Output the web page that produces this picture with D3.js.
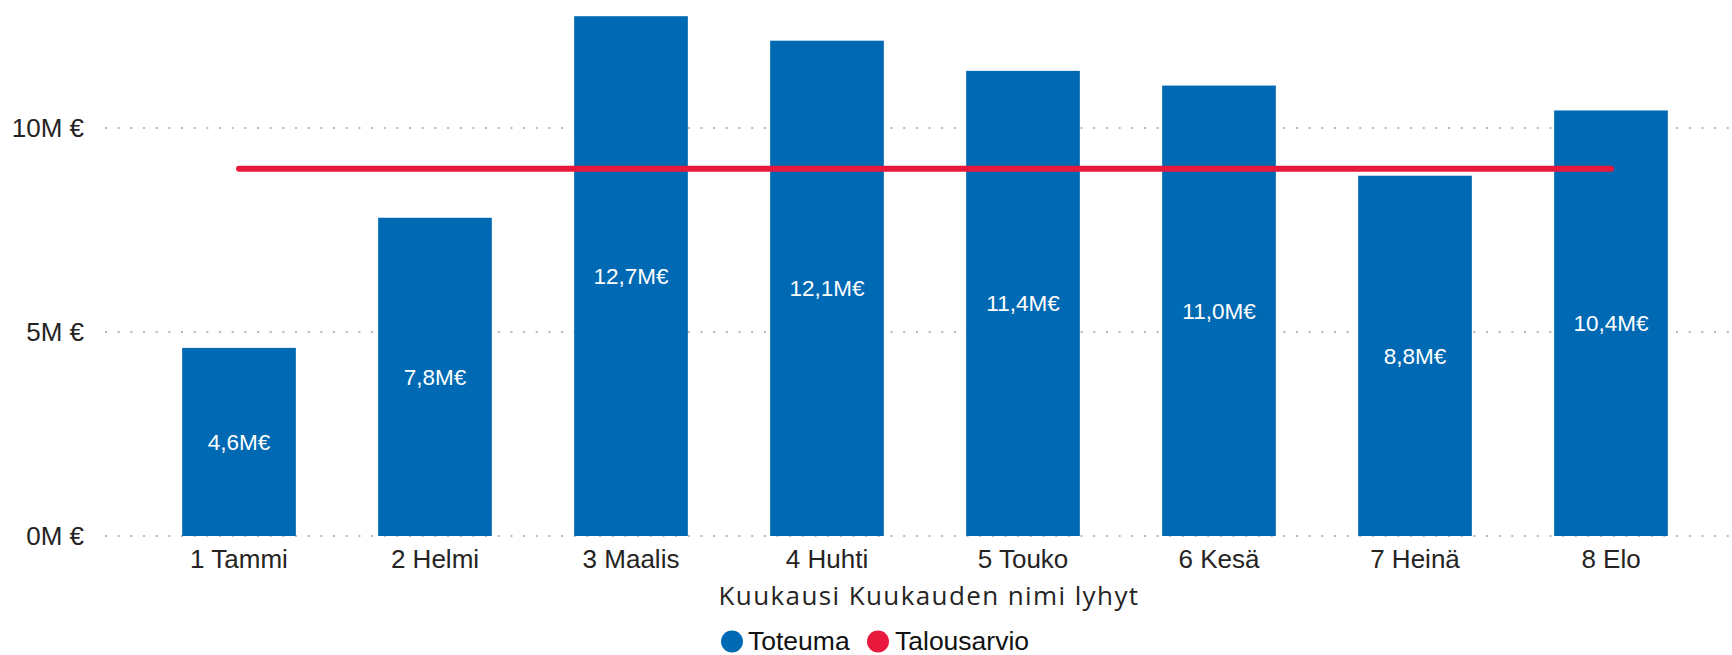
<!DOCTYPE html>
<html>
<head>
<meta charset="utf-8">
<script src="https://cdn.jsdelivr.net/npm/d3@7"></script>
<style>
  body { margin: 0; background: #fff; }
  svg { display: block; font-family: "Liberation Sans", Arial, sans-serif; }
</style>
</head>
<body>
<svg id="chart" width="1732" height="655"></svg>
<script>
var months = ["1 Tammi", "2 Helmi", "3 Maalis", "4 Huhti", "5 Touko", "6 Kesä", "7 Heinä", "8 Elo"];
var toteuma = [4.61, 7.80, 12.74, 12.14, 11.40, 11.04, 8.83, 10.43];   // M€
var talousarvio = [9.0, 9.0, 9.0, 9.0, 9.0, 9.0, 9.0, 9.0];            // M€
var yTicks = [0, 5, 10];

var svg = d3.select("#chart"),
    width = +svg.attr("width"),
    height = +svg.attr("height");

var blue = "#0069B4",
    red = "#E8193C";

// scales
var x = d3.scaleBand()
    .domain(months)
    .range([141, 1709])
    .paddingInner(0.42)
    .paddingOuter(0.21);

var y = d3.scaleLinear()
    .domain([0, 13])
    .range([536, 5.6]);

// dotted gridlines
var grid = svg.append("g").attr("id", "grid");
grid.selectAll("line")
    .data(yTicks)
    .enter().append("line")
    .attr("x1", 105)
    .attr("x2", width)
    .attr("y1", function(d) { return y(d); })
    .attr("y2", function(d) { return y(d); })
    .attr("stroke", "#b9b9b9")
    .attr("stroke-width", 2)
    .attr("stroke-dasharray", "2,10.67");

// y-axis labels
var yAxis = svg.append("g")
    .attr("id", "y_axis")
    .attr("transform", "translate(84,0)")
    .call(d3.axisLeft(y).tickValues(yTicks).tickSize(0).tickPadding(0)
        .tickFormat(function(d) { return d + "M €"; }));
yAxis.select(".domain").remove();
yAxis.selectAll("text")
    .attr("font-size", 26)
    .attr("font-family", "Liberation Sans, Arial, sans-serif")
    .attr("fill", "#252423");

// bars
svg.append("g").attr("id", "bars")
    .selectAll("rect")
    .data(toteuma)
    .enter().append("rect")
    .attr("x", function(d, i) { return x(months[i]); })
    .attr("width", x.bandwidth())
    .attr("y", function(d) { return y(d); })
    .attr("height", function(d) { return y(0) - y(d); })
    .attr("fill", blue);

// data labels (centered in bar)
svg.append("g").attr("id", "labels")
    .selectAll("text")
    .data(toteuma)
    .enter().append("text")
    .attr("x", function(d, i) { return x(months[i]) + x.bandwidth() / 2; })
    .attr("y", function(d) { return (y(d) + y(0)) / 2; })
    .attr("dy", "0.35em")
    .attr("text-anchor", "middle")
    .attr("font-size", 22.5)
    .attr("fill", "#fff")
    .text(function(d) { return d3.format(".1f")(d).replace(".", ",") + "M€"; });

// budget line
var line = d3.line()
    .x(function(d, i) { return x(months[i]) + x.bandwidth() / 2; })
    .y(function(d) { return y(d); });
svg.append("path")
    .datum(talousarvio)
    .attr("d", line)
    .attr("fill", "none")
    .attr("stroke", red)
    .attr("stroke-width", 6)
    .attr("stroke-linecap", "round");

// x-axis labels
var xAxis = svg.append("g")
    .attr("id", "x_axis")
    .attr("transform", "translate(0,536)")
    .call(d3.axisBottom(x).tickSize(0).tickPadding(14));
xAxis.select(".domain").remove();
xAxis.selectAll("text")
    .attr("font-size", 26)
    .attr("font-family", "Liberation Sans, Arial, sans-serif")
    .attr("fill", "#252423");

// axis title
svg.append("text")
    .attr("x", 929)
    .attr("y", 605)
    .attr("text-anchor", "middle")
    .attr("font-family", "Open Sans, sans-serif")
    .attr("font-size", 26)
    .attr("letter-spacing", 1.4)
    .attr("fill", "#252423")
    .text("Kuukausi Kuukauden nimi lyhyt");

// legend
var legend = [
    {name: "Toteuma", color: blue, cx: 732, tx: 748},
    {name: "Talousarvio", color: red, cx: 878, tx: 895}
];
var lg = svg.append("g").attr("id", "legend");
lg.selectAll("circle")
    .data(legend)
    .enter().append("circle")
    .attr("cx", function(d) { return d.cx; })
    .attr("cy", 641.5)
    .attr("r", 11)
    .attr("fill", function(d) { return d.color; });
lg.selectAll("text")
    .data(legend)
    .enter().append("text")
    .attr("x", function(d) { return d.tx; })
    .attr("y", 650)
    .attr("font-size", 26.5)
    .attr("fill", "#111")
    .text(function(d) { return d.name; });
</script>
</body>
</html>
